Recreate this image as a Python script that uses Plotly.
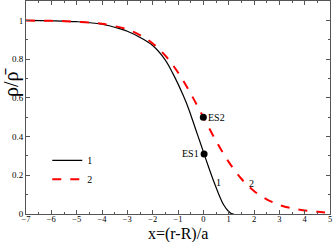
import plotly.graph_objects as go

# curve 1 (black solid)
x1 = [-7, -6, -5, -4, -3.3, -3, -2.5, -2, -1.5, -1.2, -1, -0.8, -0.6, -0.4, -0.2, 0, 0.2, 0.4, 0.6, 0.8, 1.0, 1.1, 1.2]
y1 = [1.0, 0.998, 0.993, 0.98, 0.957, 0.944, 0.912, 0.87, 0.795, 0.725, 0.672, 0.614, 0.55, 0.475, 0.398, 0.322, 0.245, 0.172, 0.105, 0.048, 0.013, 0.003, 0.0]
# curve 2 (red dashed)
x2 = [-7, -6, -5, -4, -3, -2.5, -2, -1.5, -1, -0.5, 0, 0.5, 1, 1.5, 2, 2.5, 3, 3.5, 4, 4.5, 5]
y2 = [0.999, 0.9975, 0.993, 0.982, 0.953, 0.924, 0.881, 0.818, 0.731, 0.622, 0.5, 0.378, 0.269, 0.182, 0.119, 0.076, 0.047, 0.029, 0.018, 0.011, 0.007]
# special points
es_x = [0.0, 0.03]
es_y = [0.5, 0.31]
es_labels = ["ES2", "ES1"]
# curve labels
lab_x = [0.6, 1.92]
lab_y = [0.165, 0.16]
lab_text = ["1", "2"]

font = "Liberation Serif, Times New Roman, serif"

fig = go.Figure()
fig.add_trace(go.Scatter(x=x1, y=y1, mode="lines", name="1",
                         line=dict(color="black", width=1.2, shape="spline")))
fig.add_trace(go.Scatter(x=x2, y=y2, mode="lines", name="2",
                         line=dict(color="#ff0000", width=2, dash="dash", shape="spline")))
fig.add_trace(go.Scatter(x=es_x, y=es_y, mode="markers", showlegend=False,
                         marker=dict(color="black", size=7)))

fig.add_annotation(x=es_x[0], y=es_y[0], text=es_labels[0], showarrow=False,
                   xanchor="left", xshift=3, font=dict(family=font, size=10, color="black"))
fig.add_annotation(x=es_x[1], y=es_y[1], text=es_labels[1], showarrow=False,
                   xanchor="right", xshift=-3, font=dict(family=font, size=10, color="black"))
for xx, yy, tt in zip(lab_x, lab_y, lab_text):
    fig.add_annotation(x=xx, y=yy, text=tt, showarrow=False,
                       font=dict(family=font, size=10, color="black"))

# axis titles as annotations
fig.add_annotation(xref="paper", yref="paper", x=0.5, y=0, yshift=-20, xanchor="center",
                   yanchor="middle", text="x=(r-R)/a", showarrow=False, borderpad=0,
                   font=dict(family=font, size=16, color="black"))
fig.add_annotation(xref="paper", yref="paper", x=0, y=0.62, xshift=-14, xanchor="center",
                   yanchor="middle", text="ρ/ρ̄", textangle=-90, showarrow=False,
                   font=dict(family=font, size=20, color="black"))

axis_common = dict(showline=True, linecolor="#555555", linewidth=1, mirror="ticks",
                   ticks="inside", ticklen=4, tickcolor="#555555", showgrid=False,
                   zeroline=False, automargin=False)

fig.update_xaxes(range=[-7, 5], dtick=1, tick0=-7, ticklabelstandoff=-3,
                 tickfont=dict(family=font, size=8.5, color="black"),
                 minor=dict(dtick=0.5, ticks="inside", ticklen=2, tickcolor="#555555"),
                 **axis_common)
fig.update_yaxes(range=[0, 1.1], tickvals=[0, 0.2, 0.4, 0.6, 0.8, 1],
                 ticktext=["0", "0.2", "0.4", "0.6", "0.8", "1"],
                 tickfont=dict(family=font, size=9, color="black"),
                 minor=dict(dtick=0.1, ticks="inside", ticklen=2, tickcolor="#555555"),
                 **axis_common)

fig.update_layout(width=334, height=242, margin=dict(l=26, r=4, t=1, b=28),
                  plot_bgcolor="white", paper_bgcolor="white",
                  legend=dict(x=0.07, y=0.32, xanchor="left", yanchor="top",
                              bgcolor="rgba(0,0,0,0)", font=dict(family=font, size=10, color="black"),
                              itemwidth=30, tracegroupgap=4))

fig.write_html("out.html", config={"displayModeBar": False},
               post_script="document.body.style.margin='0';document.body.style.padding='0';")
